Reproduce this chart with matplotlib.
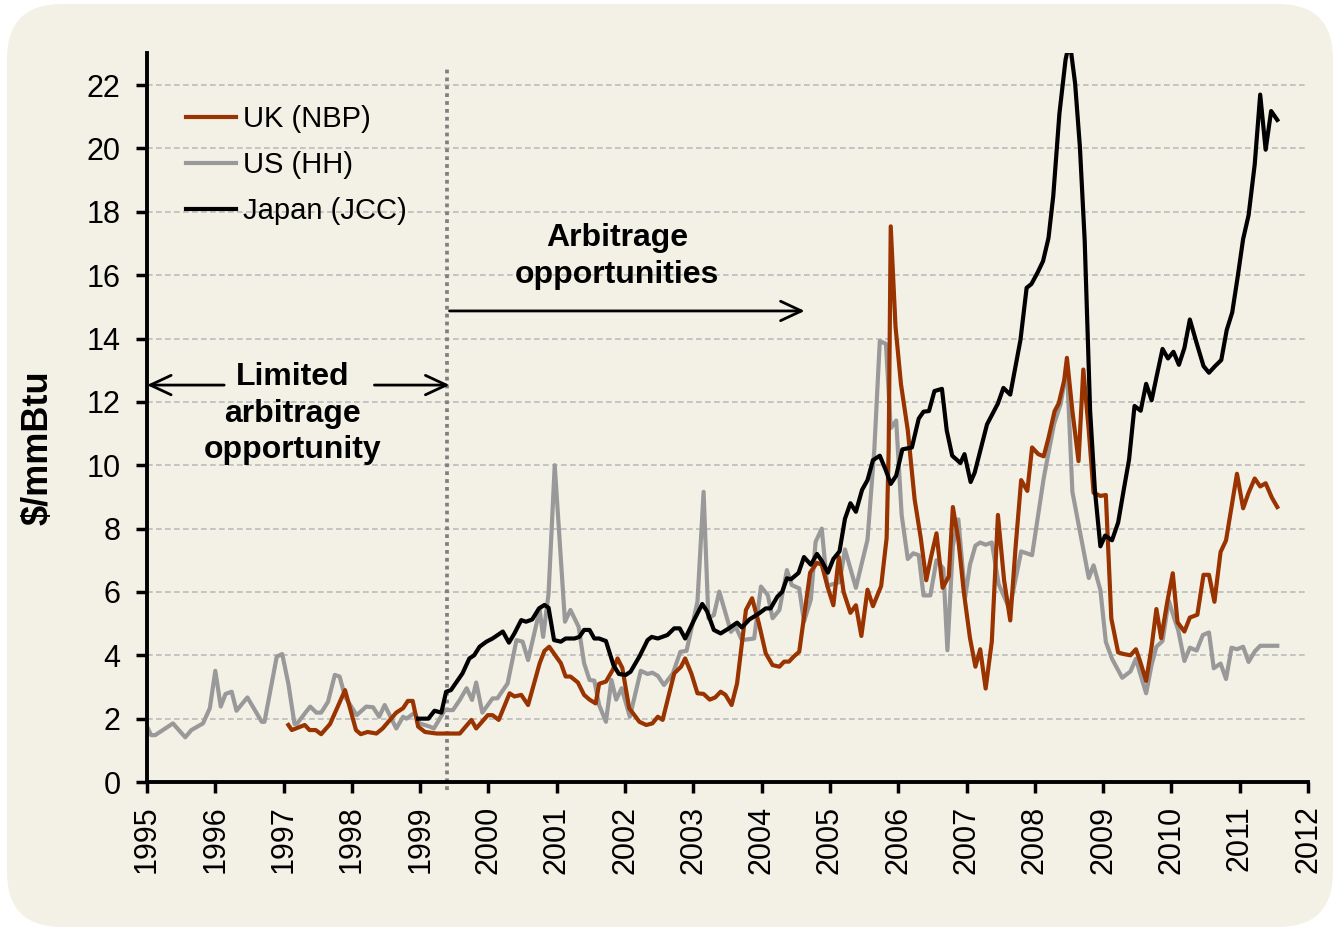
import matplotlib
matplotlib.use("Agg")
import matplotlib.pyplot as plt
import matplotlib.patches as mpatches
from matplotlib.transforms import IdentityTransform

plt.rcParams['font.family'] = ['Liberation Sans', 'DejaVu Sans']

# monthly-ish gas prices, $/mmBtu, x in decimal years
us_x = [1995.00, 1995.06, 1995.12, 1995.38, 1995.56, 1995.65, 1995.82, 1995.92, 1996.00, 1996.08,
        1996.15, 1996.24, 1996.31, 1996.47, 1996.68, 1996.72, 1996.90, 1996.98, 1997.07, 1997.16,
        1997.20, 1997.32, 1997.39, 1997.48, 1997.55, 1997.65, 1997.75, 1997.82, 1997.90, 1998.07,
        1998.21, 1998.31, 1998.40, 1998.48, 1998.65, 1998.75, 1998.80, 1998.92, 1998.99, 1999.14,
        1999.20, 1999.26, 1999.36, 1999.48, 1999.58, 1999.68, 1999.76, 1999.82, 1999.91, 2000.06,
        2000.13, 2000.28, 2000.41, 2000.50, 2000.58, 2000.75, 2000.80, 2000.88, 2000.97, 2001.12,
        2001.20, 2001.32, 2001.40, 2001.48, 2001.55, 2001.62, 2001.72, 2001.80, 2001.87, 2001.95,
        2002.07, 2002.23, 2002.33, 2002.40, 2002.48, 2002.57, 2002.70, 2002.81, 2002.90, 2003.06,
        2003.15, 2003.22, 2003.30, 2003.38, 2003.55, 2003.62, 2003.71, 2003.89, 2003.99, 2004.09,
        2004.16, 2004.26, 2004.37, 2004.44, 2004.55, 2004.62, 2004.72, 2004.79, 2004.88, 2004.96,
        2005.14, 2005.22, 2005.38, 2005.55, 2005.65, 2005.73, 2005.82, 2005.89, 2005.97, 2006.05,
        2006.14, 2006.22, 2006.30, 2006.37, 2006.47, 2006.56, 2006.66, 2006.72, 2006.80, 2006.88,
        2006.98, 2007.05, 2007.13, 2007.20, 2007.28, 2007.37, 2007.47, 2007.63, 2007.80, 2007.96,
        2008.13, 2008.28, 2008.38, 2008.47, 2008.55, 2008.67, 2008.79, 2008.86, 2008.96, 2009.04,
        2009.13, 2009.28, 2009.40, 2009.48, 2009.55, 2009.63, 2009.71, 2009.78, 2009.87, 2009.96,
        2010.03, 2010.10, 2010.19, 2010.27, 2010.37, 2010.46, 2010.55, 2010.62, 2010.72, 2010.80,
        2010.88, 2010.96, 2011.05, 2011.13, 2011.22, 2011.30, 2011.55]
us_y = [1.75, 1.48, 1.48, 1.85, 1.41, 1.64, 1.85, 2.33, 3.51, 2.38,
        2.78, 2.85, 2.25, 2.67, 1.90, 1.90, 3.96, 4.04, 3.10, 1.83,
        1.85, 2.19, 2.38, 2.19, 2.19, 2.53, 3.38, 3.33, 2.69, 2.11,
        2.38, 2.36, 2.06, 2.43, 1.69, 2.06, 2.00, 2.19, 1.85, 1.75,
        1.69, 1.90, 2.27, 2.27, 2.59, 2.96, 2.59, 3.14, 2.19, 2.64,
        2.64, 3.11, 4.48, 4.43, 3.85, 5.43, 4.58, 5.95, 10.0, 5.06,
        5.43, 4.90, 3.75, 3.22, 3.20, 2.43, 1.90, 3.22, 2.60, 2.96,
        2.06, 3.51, 3.41, 3.45, 3.35, 3.06, 3.43, 4.11, 4.14, 5.69,
        9.16, 5.17, 5.27, 6.01, 4.74, 4.90, 4.48, 4.53, 6.17, 5.90,
        5.17, 5.43, 6.69, 6.22, 6.11, 5.06, 5.76, 7.58, 8.00, 6.19,
        6.31, 7.34, 6.13, 7.65, 10.5, 13.92, 13.83, 11.17, 11.41, 8.43,
        7.04, 7.22, 7.16, 5.89, 5.89, 7.00, 6.74, 4.16, 7.46, 8.29,
        5.83, 6.86, 7.46, 7.56, 7.49, 7.56, 6.25, 5.46, 7.28, 7.16,
        9.59, 11.29, 11.95, 13.10, 9.16, 7.80, 6.44, 6.84, 6.06, 4.42,
        3.89, 3.29, 3.49, 3.89, 3.37, 2.80, 3.70, 4.27, 4.45, 5.73,
        5.24, 4.79, 3.82, 4.24, 4.15, 4.64, 4.72, 3.59, 3.74, 3.25,
        4.24, 4.19, 4.27, 3.79, 4.12, 4.30, 4.30]

uk_x = [1997.07, 1997.12, 1997.31, 1997.38, 1997.47, 1997.55, 1997.68, 1997.90, 1998.06, 1998.13,
        1998.23, 1998.36, 1998.45, 1998.65, 1998.75, 1998.82, 1998.89, 1998.97, 1999.07, 1999.24,
        1999.58, 1999.75, 1999.82, 1999.99, 2000.06, 2000.15, 2000.31, 2000.38, 2000.48, 2000.58,
        2000.75, 2000.82, 2000.89, 2000.99, 2001.06, 2001.13, 2001.20, 2001.31, 2001.40, 2001.48,
        2001.57, 2001.62, 2001.72, 2001.82, 2001.89, 2001.96, 2002.06, 2002.21, 2002.31, 2002.40,
        2002.48, 2002.55, 2002.72, 2002.82, 2002.88, 2002.97, 2003.06, 2003.15, 2003.24, 2003.32,
        2003.40, 2003.47, 2003.56, 2003.64, 2003.77, 2003.86, 2003.96, 2004.06, 2004.16, 2004.26,
        2004.33, 2004.40, 2004.47, 2004.55, 2004.62, 2004.71, 2004.81, 2004.88, 2004.97, 2005.05,
        2005.13, 2005.20, 2005.30, 2005.38, 2005.46, 2005.55, 2005.63, 2005.75, 2005.83, 2005.86,
        2005.89, 2005.96, 2006.04, 2006.14, 2006.24, 2006.33, 2006.41, 2006.48, 2006.56, 2006.65,
        2006.74, 2006.80, 2006.88, 2006.96, 2007.05, 2007.13, 2007.20, 2007.28, 2007.37, 2007.46,
        2007.55, 2007.64, 2007.72, 2007.80, 2007.89, 2007.96, 2008.05, 2008.13, 2008.20, 2008.29,
        2008.35, 2008.43, 2008.47, 2008.55, 2008.64, 2008.71, 2008.79, 2008.86, 2008.96, 2009.04,
        2009.12, 2009.22, 2009.30, 2009.40, 2009.48, 2009.54, 2009.63, 2009.71, 2009.78, 2009.85,
        2009.94, 2010.02, 2010.09, 2010.19, 2010.27, 2010.38, 2010.47, 2010.55, 2010.63, 2010.72,
        2010.80, 2010.88, 2010.96, 2011.05, 2011.13, 2011.22, 2011.30, 2011.38, 2011.47, 2011.55]
uk_y = [1.80, 1.64, 1.80, 1.64, 1.64, 1.51, 1.83, 2.90, 1.64, 1.51,
        1.58, 1.53, 1.69, 2.19, 2.33, 2.56, 2.56, 1.75, 1.58, 1.53,
        1.53, 1.96, 1.69, 2.11, 2.11, 1.96, 2.80, 2.70, 2.75, 2.43,
        3.75, 4.14, 4.27, 3.96, 3.75, 3.33, 3.33, 3.14, 2.75, 2.60,
        2.48, 3.10, 3.17, 3.54, 3.90, 3.60, 2.33, 1.90, 1.80, 1.85,
        2.06, 1.96, 3.43, 3.64, 3.90, 3.43, 2.80, 2.78, 2.60, 2.67,
        2.85, 2.75, 2.43, 3.11, 5.43, 5.80, 5.00, 4.06, 3.69, 3.64,
        3.80, 3.80, 3.96, 4.11, 5.20, 6.61, 6.92, 6.86, 6.13, 5.58,
        7.10, 6.00, 5.34, 5.58, 4.61, 6.07, 5.55, 6.19, 7.70, 10.5,
        17.54, 14.38, 12.56, 11.10, 8.92, 7.70, 6.37, 7.10, 7.85, 6.13,
        6.49, 8.68, 7.65, 6.00, 4.55, 3.64, 4.19, 2.95, 4.43, 8.43,
        6.37, 5.10, 7.46, 9.53, 9.19, 10.56, 10.35, 10.28, 10.86, 11.71,
        11.95, 12.68, 13.39, 11.71, 10.13, 13.02, 11.10, 9.13, 9.03, 9.06,
        5.16, 4.09, 4.04, 4.00, 4.19, 3.82, 3.19, 4.27, 5.46, 4.54,
        5.69, 6.59, 5.04, 4.75, 5.19, 5.28, 6.54, 6.54, 5.69, 7.26,
        7.63, 8.68, 9.73, 8.64, 9.13, 9.58, 9.33, 9.43, 8.98, 8.68]

jp_x = [1998.97, 1999.12, 1999.21, 1999.31, 1999.38, 1999.45, 1999.62, 1999.72, 1999.79, 1999.87,
        1999.97, 2000.06, 2000.21, 2000.30, 2000.38, 2000.48, 2000.55, 2000.64, 2000.74, 2000.82,
        2000.88, 2000.96, 2001.06, 2001.13, 2001.26, 2001.33, 2001.40, 2001.48, 2001.55, 2001.62,
        2001.72, 2001.83, 2001.91, 2002.01, 2002.08, 2002.21, 2002.33, 2002.39, 2002.48, 2002.62,
        2002.72, 2002.80, 2002.88, 2003.01, 2003.13, 2003.20, 2003.30, 2003.40, 2003.52, 2003.64,
        2003.71, 2003.82, 2003.96, 2004.06, 2004.13, 2004.23, 2004.30, 2004.37, 2004.43, 2004.54,
        2004.62, 2004.72, 2004.81, 2004.88, 2004.97, 2005.05, 2005.14, 2005.22, 2005.30, 2005.38,
        2005.47, 2005.55, 2005.63, 2005.73, 2005.82, 2005.89, 2005.97, 2006.06, 2006.20, 2006.30,
        2006.37, 2006.45, 2006.53, 2006.64, 2006.71, 2006.79, 2006.91, 2006.97, 2007.06, 2007.12,
        2007.20, 2007.30, 2007.46, 2007.54, 2007.64, 2007.79, 2007.88, 2007.95, 2008.04, 2008.12,
        2008.20, 2008.27, 2008.36, 2008.45, 2008.51, 2008.59, 2008.66, 2008.73, 2008.81, 2008.88,
        2008.96, 2009.03, 2009.13, 2009.22, 2009.30, 2009.38, 2009.46, 2009.55, 2009.63, 2009.71,
        2009.79, 2009.87, 2009.95, 2010.03, 2010.11, 2010.19, 2010.27, 2010.37, 2010.47, 2010.55,
        2010.64, 2010.73, 2010.81, 2010.89, 2010.97, 2011.05, 2011.13, 2011.22, 2011.30, 2011.38,
        2011.46, 2011.55]
jp_y = [2.00, 2.00, 2.25, 2.19, 2.85, 2.90, 3.43, 3.90, 4.00, 4.27,
        4.43, 4.53, 4.75, 4.40, 4.69, 5.11, 5.06, 5.13, 5.48, 5.59,
        5.50, 4.48, 4.43, 4.53, 4.53, 4.58, 4.80, 4.80, 4.53, 4.53,
        4.45, 3.69, 3.41, 3.38, 3.48, 3.96, 4.48, 4.58, 4.53, 4.64,
        4.85, 4.85, 4.53, 5.11, 5.62, 5.39, 4.80, 4.69, 4.85, 5.03,
        4.88, 5.13, 5.32, 5.48, 5.48, 5.85, 6.00, 6.43, 6.40, 6.60,
        7.10, 6.86, 7.20, 6.98, 6.61, 7.04, 7.28, 8.31, 8.80, 8.53,
        9.22, 9.53, 10.16, 10.30, 9.83, 9.41, 9.67, 10.50, 10.56, 11.47,
        11.69, 11.71, 12.34, 12.41, 11.10, 10.30, 10.07, 10.35, 9.47, 9.77,
        10.44, 11.29, 11.95, 12.44, 12.23, 13.96, 15.60, 15.72, 16.08, 16.44,
        17.17, 18.50, 21.10, 22.80, 23.40, 22.05, 20.05, 17.10, 11.70, 9.20,
        7.44, 7.78, 7.63, 8.19, 9.20, 10.18, 11.87, 11.72, 12.57, 12.05,
        12.87, 13.67, 13.37, 13.58, 13.17, 13.70, 14.60, 13.85, 13.13, 12.92,
        13.13, 13.32, 14.27, 14.82, 15.94, 17.14, 17.89, 19.50, 21.70, 19.96,
        21.18, 20.90]

years = list(range(1995, 2013))
yticks = list(range(0, 23, 2))

fig = plt.figure(figsize=(13.35, 9.3), dpi=100, facecolor='white')

# rounded beige background panel (pixel coords)
bg = mpatches.FancyBboxPatch((7 + 55, 3 + 55), 1326 - 110, 923 - 110,
                             boxstyle="round,pad=55", transform=IdentityTransform(),
                             facecolor='#F3F1E6', edgecolor='none', zorder=-10)
fig.patches.append(bg)

ax = fig.add_axes([147/1335, 1 - 782/930, 1161/1335, 728.6/930])
ax.set_facecolor('none')

lw = 3.0
ax.plot(uk_x, uk_y, color='#993300', lw=lw, label='UK (NBP)', zorder=3)
ax.plot(us_x, us_y, color='#999999', lw=lw, label='US (HH)', zorder=2)
ax.plot(jp_x, jp_y, color='black', lw=lw, label='Japan (JCC)', zorder=4)

ax.set_xlim(1995, 2012)
ax.set_ylim(0, 23)
ax.set_xticks(years)
ax.set_xticklabels([str(y) for y in years], rotation=90, fontsize=22)
ax.set_yticks(yticks)
ax.set_yticklabels([str(v) for v in yticks], fontsize=22)
ax.tick_params(axis='y', direction='out', length=8, width=2.5, pad=11)
ax.tick_params(axis='x', direction='out', length=8, width=2.5, pad=9)

for s in ['top', 'right']:
    ax.spines[s].set_visible(False)
for s in ['left', 'bottom']:
    ax.spines[s].set_linewidth(2.8)

ax.yaxis.grid(True, color='#BBBBBB', lw=1.2, linestyle=(0, (3.4, 2.0)))
ax.set_axisbelow(True)

# dotted divider
ax.plot([1999.39, 1999.39], [-0.25, 22.5], color='#808080', lw=2.7,
        linestyle=(0, (1, 1.1)), clip_on=False, zorder=1)

ax.legend(loc='upper left', bbox_to_anchor=(0.034, 0.929), frameon=False, fontsize=21,
          handlelength=1.7, handletextpad=0.25, labelspacing=0.62, borderpad=0, borderaxespad=0)

arrow = dict(arrowstyle='->,head_length=0.75,head_width=0.35', lw=2, color='black',
             mutation_scale=20, shrinkA=0, shrinkB=0)
ax.annotate('', xy=(2004.63, 14.87), xytext=(1999.43, 14.87), arrowprops=arrow)
ax.annotate('', xy=(1995.0, 12.53), xytext=(1996.13, 12.53), arrowprops=arrow)
ax.annotate('', xy=(1999.43, 12.53), xytext=(1998.33, 12.53), arrowprops=arrow)

ax.text(2001.88, 16.6, 'Arbitrage\nopportunities', ha='center', va='center',
        fontsize=23, fontweight='bold', linespacing=1.3)
ax.text(1997.13, 11.63, 'Limited\narbitrage\nopportunity', ha='center', va='center',
        fontsize=23, fontweight='bold', linespacing=1.3)

fig.text(38/1335, 1 - 448/930, '$/mmBtu', rotation=90, ha='center', va='center',
         fontsize=26, fontweight='bold')

fig.savefig('out.png', dpi=100)
